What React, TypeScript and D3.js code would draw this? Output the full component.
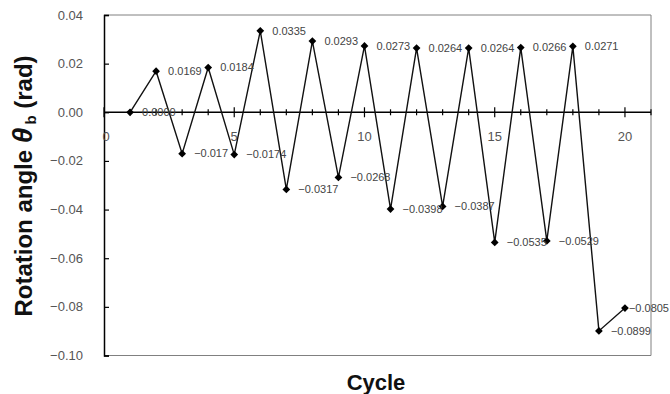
import React, { useEffect, useRef } from "react";
import * as d3 from "d3";

const cycles = [1, 2, 3, 4, 5, 6, 7, 8, 9, 10, 11, 12, 13, 14, 15, 16, 17, 18, 19, 20];
const angles = [
  0.0, 0.0169, -0.017, 0.0184, -0.0174, 0.0335, -0.0317, 0.0293, -0.0268, 0.0273,
  -0.0398, 0.0264, -0.0387, 0.0264, -0.0535, 0.0266, -0.0529, 0.0271, -0.0899, -0.0805,
];
const pointLabels = [
  "0.0000", "0.0169", "−0.017", "0.0184", "−0.0174", "0.0335", "−0.0317", "0.0293", "−0.0268", "0.0273",
  "−0.0398", "0.0264", "−0.0387", "0.0264", "−0.0535", "0.0266", "−0.0529", "0.0271", "−0.0899", "−0.0805",
];
const yTicks = [0.04, 0.02, 0.0, -0.02, -0.04, -0.06, -0.08, -0.1];
const xMajorTicks = [0, 5, 10, 15, 20];

export default function App() {
  const ref = useRef<SVGSVGElement>(null);

  useEffect(() => {
    document.body.style.margin = "0";
    if (!ref.current) return;
    const svg = d3.select(ref.current);
    svg.selectAll("*").remove();

    const W = 670;
    const H = 394;
    const margin = { top: 15, right: 19, bottom: 38.5, left: 104 };
    const font = "'Liberation Sans', Arial, sans-serif";

    const x = d3.scaleLinear().domain([0, 21]).range([margin.left, W - margin.right]);
    const y = d3.scaleLinear().domain([-0.1, 0.04]).range([H - margin.bottom, margin.top]);

    // plot frame (top, right, bottom in gray)
    svg
      .append("path")
      .attr("d", `M${x(0)},${y(0.04)}H${x(21)}V${y(-0.1)}H${x(0)}`)
      .attr("fill", "none")
      .attr("stroke", "#808080")
      .attr("stroke-width", 1);

    // y axis, ticks pointing inside
    const yAxis = svg
      .append("g")
      .attr("transform", `translate(${x(0)},0)`)
      .call(
        d3
          .axisRight(y)
          .tickValues(yTicks)
          .tickSize(5)
          .tickFormat(() => "")
      );
    yAxis.select(".domain").attr("stroke", "#000").attr("stroke-width", 1.5);
    yAxis.selectAll(".tick line").attr("stroke", "#000").attr("stroke-width", 1.2);

    svg
      .append("g")
      .selectAll("text")
      .data(yTicks)
      .enter()
      .append("text")
      .attr("x", x(0) - 21)
      .attr("y", (d) => y(d))
      .attr("dy", "0.35em")
      .attr("text-anchor", "end")
      .style("font-family", font)
      .style("font-size", "13px")
      .style("fill", "#555")
      .text((d) => d3.format(".2f")(d).replace("-", "−"));

    // x axis at zero
    svg
      .append("line")
      .attr("x1", x(0))
      .attr("x2", x(21))
      .attr("y1", y(0))
      .attr("y2", y(0))
      .attr("stroke", "#000")
      .attr("stroke-width", 1.5);

    const allTicks = d3.range(0, 22);
    svg
      .append("g")
      .selectAll("line")
      .data(allTicks)
      .enter()
      .append("line")
      .attr("x1", (d) => x(d))
      .attr("x2", (d) => x(d))
      .attr("y1", (d) => y(0) - (d % 5 === 0 ? 5 : 3))
      .attr("y2", (d) => y(0) + (d % 5 === 0 ? 5 : 3))
      .attr("stroke", "#000")
      .attr("stroke-width", 1.2);

    svg
      .append("g")
      .selectAll("text")
      .data(xMajorTicks)
      .enter()
      .append("text")
      .attr("x", (d) => x(d) + (d === 0 ? 2 : 0))
      .attr("y", y(0) + 29)
      .attr("text-anchor", "middle")
      .style("font-family", font)
      .style("font-size", "13px")
      .style("fill", "#555")
      .text((d) => String(d));

    // data line
    const data = cycles.map((c, i) => ({ c, v: angles[i], label: pointLabels[i] }));
    const line = d3
      .line<any>()
      .x((d) => x(d.c))
      .y((d) => y(d.v));

    svg
      .append("path")
      .datum(data)
      .attr("fill", "none")
      .attr("stroke", "#111")
      .attr("stroke-width", 1.4)
      .attr("d", line);

    const diamond = d3.symbol().type(d3.symbolSquare).size(30);
    svg
      .append("g")
      .selectAll("path")
      .data(data)
      .enter()
      .append("path")
      .attr("d", diamond)
      .attr("transform", (d) => `translate(${x(d.c)},${y(d.v)}) rotate(45)`)
      .attr("fill", "#000");

    // value labels, right of each point, kept inside the picture
    svg
      .append("g")
      .selectAll("text")
      .data(data)
      .enter()
      .append("text")
      .attr("y", (d) => y(d.v))
      .attr("dy", "0.35em")
      .style("font-family", font)
      .style("font-size", "11px")
      .style("fill", "#444")
      .text((d) => d.label)
      .attr("x", function (d) {
        const w = (this as SVGTextElement).getComputedTextLength();
        return Math.min(x(d.c) + 12, W - w - 1);
      });

    // y axis title, rotated
    const yTitle = svg
      .append("text")
      .attr("transform", `translate(32,186) rotate(-90)`)
      .attr("text-anchor", "middle")
      .style("font-family", font)
      .style("font-size", "24px")
      .style("font-weight", "bold")
      .style("fill", "#111");
    yTitle.append("tspan").text("Rotation angle ");
    yTitle.append("tspan").style("font-style", "italic").style("font-size", "28px").text("θ");
    yTitle
      .append("tspan")
      .attr("dy", 4)
      .attr("dx", 3)
      .style("font-size", "15px")
      .text("b");
    yTitle.append("tspan").attr("dy", -4).text(" (rad)");

    svg
      .append("text")
      .attr("x", 376)
      .attr("y", 390)
      .attr("text-anchor", "middle")
      .style("font-family", font)
      .style("font-size", "22px")
      .style("font-weight", "bold")
      .style("fill", "#111")
      .text("Cycle");
  }, []);

  return <svg ref={ref} width={670} height={394} style={{ display: "block", background: "#fff" }} />;
}
